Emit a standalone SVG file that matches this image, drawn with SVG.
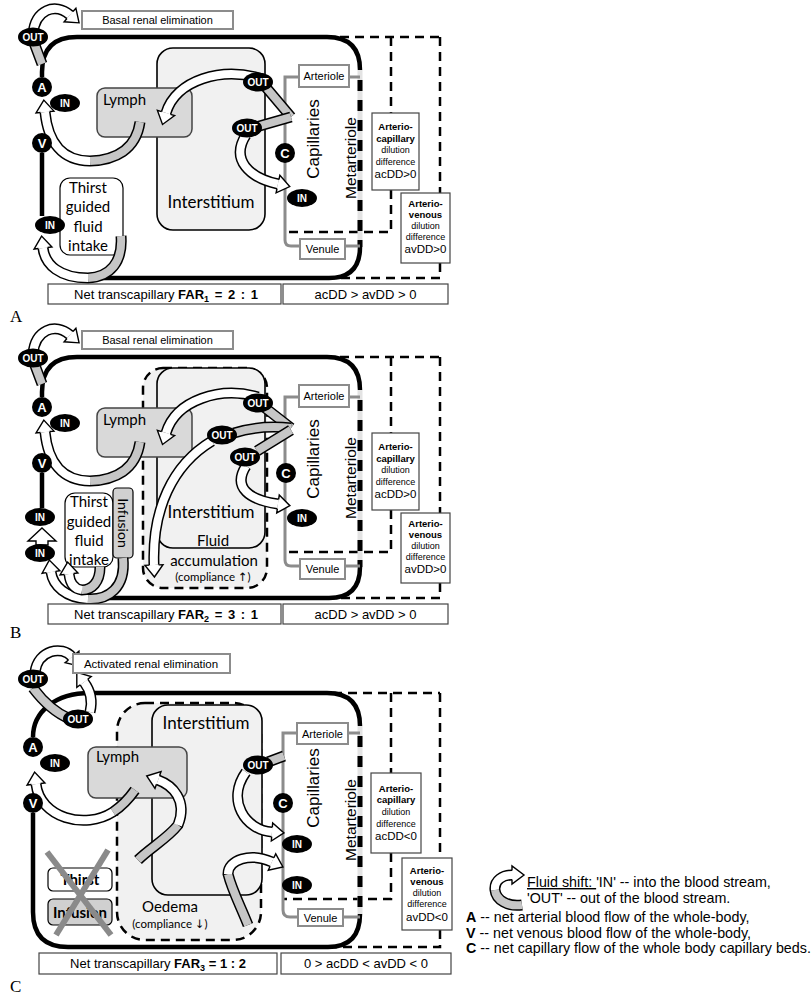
<svg xmlns="http://www.w3.org/2000/svg" width="812" height="995" viewBox="0 0 812 995">
<defs>
<marker id="ah" markerUnits="userSpaceOnUse" markerWidth="16" markerHeight="22" viewBox="-1 -11 16 22" refX="0" refY="0" orient="auto" overflow="visible">
<path d="M0,-4.6 L0,-9 L12,0 L0,9 L0,4.6" fill="#fff" stroke="#000" stroke-width="1.4"/>
</marker>
<style>
text{font-family:"Liberation Sans",Arial,sans-serif;}
.cal{font-family:Lato,"Open Sans",sans-serif;}
.ser{font-family:"Liberation Serif","Times New Roman",serif;}
.arr{font-family:"DejaVu Sans",sans-serif;fill:#000;}
.vl{fill:none;stroke:#000;stroke-width:4.5;}
.dash{fill:none;stroke:#000;stroke-width:2.5;stroke-dasharray:9 6;}
.dreg{fill:#f1f1f1;stroke:#000;stroke-width:2.5;stroke-dasharray:9 6;}
.cap{fill:none;stroke:#8c8c8c;stroke-width:3;}
.mb{stroke:#e3e3e3;stroke-width:5;}
.md{stroke:#000;stroke-width:5;stroke-dasharray:11 9;}
.ro{fill:none;stroke:#000;stroke-width:11;}
.rw{fill:none;stroke:#fff;stroke-width:8;marker-end:url(#ah);}
.rg{fill:none;stroke:#c6c6c6;stroke-width:8;}
.gbox{fill:#fff;stroke:#8c8c8c;stroke-width:2;}
.dbox{fill:#fff;stroke:#444;stroke-width:1.2;}
.tbox{fill:#fff;stroke:#000;stroke-width:1.2;}
.ibox{fill:#d0d0d0;stroke:#000;stroke-width:1.2;}
.lym{fill:#d9d9d9;stroke:#444;stroke-width:1.5;}
.ist{fill:#f1f1f1;stroke:#000;stroke-width:1.6;}
.ot{fill:#fff;font-weight:bold;font-size:10px;text-anchor:middle;}
.ct{fill:#fff;font-weight:bold;font-size:13px;text-anchor:middle;}
.mid{text-anchor:middle;}
.b{font-weight:bold;}
.x{stroke:#8a8a8a;stroke-width:6;}
.lg{font-size:14.3px;}
</style>
</defs>
<rect width="812" height="995" fill="#fff"/>

<!-- ================= PANEL A ================= -->
<g id="panelA">
<g id="A-interstitium"><rect class="ist" x="157" y="48" width="108" height="182" rx="16"/><text class="cal mid" x="211" y="208" font-size="17">Interstitium</text></g>
<g id="A-lymph"><rect class="lym" x="97" y="88" width="95" height="49" rx="8"/><text class="cal" x="103" y="105" font-size="15">Lymph</text></g>
<g id="A-thirst"><rect class="tbox" x="60" y="178" width="63" height="77" rx="10"/><text class="cal mid" font-size="15"><tspan x="88" y="193">Thirst</tspan><tspan x="88" y="212">guided</tspan><tspan x="88" y="232">fluid</tspan><tspan x="88" y="251">intake</tspan></text></g>
<g id="A-frames">
<path class="dash" d="M340 37 L440 37 M391 37 L391 113 M391 190 L391 232 L285 232 M440 37 L440 193 M440 263 L440 278 L330 278"/>
</g>
<g id="A-connectors">
<path class="vl" d="M42 77 L42 72 Q42 37 77 37 L327 37 Q360 37 360 70"/>
<path class="vl" d="M360 247 Q360 278 329 278 L84 278"/>
<path class="vl" d="M42 153 L42 216"/>
<line class="mb" x1="360" y1="70" x2="360" y2="247"/>
<line class="md" x1="360" y1="80" x2="360" y2="247"/>
<path class="cap" d="M299 77 L285 77 L285 240 Q285 246 291 246 L300 246 M349 77 L360 77 M345 246 L360 246"/>
<g id="A-f1"><path class="ro" d="M42 64 L33 40 M33 34 C35 10 55 2 70 15"/><path class="rg" d="M42 64 L33 40"/><path class="rw" d="M33 34 C35 10 55 2 70 15"/></g>
<g id="A-f2"><path class="ro" d="M140 122 C136 150 115 160 90 161 C62 161 48 142 45 112"/><path class="rg" d="M140 122 C136 150 115 160 90 161"/><path class="rw" d="M90 161 C62 161 48 142 45 112"/></g>
<g id="A-f3"><path class="ro" d="M291 117 L264 85 M262 79 C222 66 176 80 166 113"/><path class="rg" d="M291 117 L264 85"/><path class="rw" d="M262 79 C222 66 176 80 166 113"/></g>
<g id="A-f4"><path class="ro" d="M291 117 L256 127 M246 135 C230 160 250 178 278 184"/><path class="rg" d="M291 117 L256 127"/><path class="rw" d="M246 135 C230 160 250 178 278 184"/></g>
<g id="A-f5"><path class="ro" d="M121 236 C123 262 110 277 88 278 C60 278 45 265 43 248"/><path class="rg" d="M121 236 C123 262 110 277 88 278"/><path class="rw" d="M88 278 C60 278 45 265 43 248"/></g>
</g>
<g id="A-renal"><rect class="gbox" x="82" y="11" width="151" height="18"/><text class="mid" x="157.5" y="24" font-size="11">Basal renal elimination</text></g>
<g id="A-out1"><ellipse cx="33" cy="37" rx="15" ry="9.5"/><text class="ot" x="33" y="40.5">OUT</text></g>
<g id="A-A"><circle cx="42" cy="87" r="10"/><text class="ct" x="42" y="91.5">A</text></g>
<g id="A-in1"><ellipse cx="65" cy="103" rx="15" ry="9"/><text class="ot" x="65" y="106.5">IN</text></g>
<g id="A-V"><circle cx="42" cy="143" r="10"/><text class="ct" x="42" y="147.5">V</text></g>
<g id="A-in2"><ellipse cx="50" cy="225" rx="15" ry="9"/><text class="ot" x="50" y="228.5">IN</text></g>
<g id="A-out2"><ellipse cx="258" cy="82" rx="15" ry="9.5"/><text class="ot" x="258" y="85.5">OUT</text></g>
<g id="A-out3"><ellipse cx="247" cy="128" rx="15" ry="9.5"/><text class="ot" x="247" y="131.5">OUT</text></g>
<g id="A-C"><circle cx="285" cy="153" r="10"/><text class="ct" x="285" y="157.5">C</text></g>
<g id="A-in3"><ellipse cx="302" cy="198" rx="15" ry="9"/><text class="ot" x="302" y="201.5">IN</text></g>
<g id="A-caps"><text transform="translate(319,139) rotate(-90)" class="mid" font-size="17">Capillaries</text><text transform="translate(356,158) rotate(-90)" class="mid" font-size="15.5">Metarteriole</text></g>
<g id="A-arteriole"><rect class="gbox" x="299" y="65" width="50" height="22"/><text class="mid" x="324" y="80" font-size="11">Arteriole</text></g>
<g id="A-venule"><rect class="gbox" x="300" y="239" width="45" height="20"/><text class="mid" x="322.5" y="253" font-size="11">Venule</text></g>
<g id="A-acdd"><rect class="dbox" x="372" y="113" width="47" height="77"/><text class="mid" font-size="9.5"><tspan class="b" x="395.5" y="130">Arterio-</tspan><tspan class="b" x="395.5" y="142">capillary</tspan><tspan x="395.5" y="153" font-size="9">dilution</tspan><tspan x="395.5" y="165" font-size="9">difference</tspan><tspan x="395.5" y="178" font-size="11.5">acDD&gt;0</tspan></text></g>
<g id="A-avdd"><rect class="dbox" x="401" y="193" width="49" height="70"/><text class="mid" font-size="9.5"><tspan class="b" x="425.5" y="207">Arterio-</tspan><tspan class="b" x="425.5" y="218">venous</tspan><tspan x="425.5" y="229" font-size="9">dilution</tspan><tspan x="425.5" y="240" font-size="9">difference</tspan><tspan x="425.5" y="253" font-size="11.5">avDD&gt;0</tspan></text></g>
<g id="A-far"><rect class="dbox" x="48" y="284" width="233" height="20"/><text class="mid" x="166" y="298.5" font-size="13">Net transcapillary <tspan class="b">FAR</tspan><tspan class="b" font-size="9" dy="3">1</tspan><tspan class="b" dy="-3" word-spacing="2"> = 2 : 1</tspan></text></g>
<g id="A-dd"><rect class="dbox" x="283" y="284" width="165" height="20"/><text class="mid" x="365.5" y="298.5" font-size="13">acDD &gt; avDD &gt; 0</text></g>
<text class="ser" x="10" y="322" font-size="17">A</text>
</g>

<!-- ================= PANEL B ================= -->
<g id="panelB" transform="translate(0,320)">
<rect id="B-accum-region" class="dreg" x="143" y="48" width="124" height="220" rx="20"/>
<g id="B-interstitium"><rect class="ist" x="157" y="48" width="108" height="180" rx="16"/><text class="cal mid" x="211" y="198" font-size="17">Interstitium</text></g>
<g id="B-accum"><text class="cal mid" x="213" y="226" font-size="15">Fluid</text><text class="cal mid" x="214" y="246" font-size="15">accumulation</text><text class="cal mid" x="213" y="261" font-size="11.5">(compliance <tspan class="arr">↑</tspan>)</text></g>
<g id="B-lymph"><rect class="lym" x="97" y="88" width="95" height="49" rx="8"/><text class="cal" x="103" y="105" font-size="15">Lymph</text></g>
<g id="B-thirst"><rect class="tbox" x="65" y="173" width="48" height="74" rx="10"/><text class="cal mid" font-size="15"><tspan x="89" y="187">Thirst</tspan><tspan x="89" y="207">guided</tspan><tspan x="89" y="226">fluid</tspan><tspan x="89" y="245">intake</tspan></text></g>
<g id="B-infusion"><rect class="ibox" x="113" y="168" width="20" height="70" rx="4"/><text class="cal mid" transform="translate(123,203) rotate(90)" y="5" font-size="14">Infusion</text></g>
<g id="B-frames">
<path class="dash" d="M340 37 L440 37 M391 37 L391 113 M391 190 L391 232 L285 232 M440 37 L440 193 M440 263 L440 278 L330 278"/>
</g>
<g id="B-connectors">
<path class="vl" d="M42 77 L42 72 Q42 37 77 37 L327 37 Q360 37 360 70"/>
<path class="vl" d="M360 247 Q360 278 329 278 L84 278"/>
<path class="vl" d="M42 153 L42 188"/>
<line class="mb" x1="360" y1="70" x2="360" y2="247"/>
<line class="md" x1="360" y1="80" x2="360" y2="247"/>
<path class="cap" d="M299 77 L285 77 L285 240 Q285 246 291 246 L300 246 M349 77 L360 77 M345 246 L360 246"/>
<g id="B-f1"><path class="ro" d="M42 64 L33 40 M33 34 C35 10 55 2 70 15"/><path class="rg" d="M42 64 L33 40"/><path class="rw" d="M33 34 C35 10 55 2 70 15"/></g>
<g id="B-f2"><path class="ro" d="M140 122 C136 150 115 160 90 161 C62 161 48 142 45 112"/><path class="rg" d="M140 122 C136 150 115 160 90 161"/><path class="rw" d="M90 161 C62 161 48 142 45 112"/></g>
<g id="B-f3"><path class="ro" d="M291 108 L264 87 M258 77 C220 66 176 80 166 113"/><path class="rg" d="M291 108 L264 87"/><path class="rw" d="M258 77 C220 66 176 80 166 113"/></g>
<g id="B-f4"><path class="ro" d="M291 108 C272 106 250 108 234 113 M212 121 C172 145 152 190 154 245"/><path class="rg" d="M291 108 C272 106 250 108 234 113"/><path class="rw" d="M212 121 C172 145 152 190 154 245"/></g>
<g id="B-f5"><path class="ro" d="M291 110 L257 131 M246 146 C232 168 250 180 278 184"/><path class="rg" d="M291 110 L257 131"/><path class="rw" d="M246 146 C232 168 250 180 278 184"/></g>
<g id="B-f6"><path class="ro" d="M123 238 C126 268 108 280 88 279 C66 278 53 266 51 252"/><path class="rg" d="M123 238 C126 268 108 280 88 279"/><path class="rw" d="M88 279 C66 278 53 266 51 252"/></g>
<g id="B-f7"><path class="ro" d="M100 247 C100 262 92 270 82 270 C74 269 70 263 69 254"/><path class="rg" d="M100 247 C100 262 92 270 82 270"/><path class="rw" d="M82 270 C74 269 70 263 69 254"/></g>
<polygon id="B-inin" points="42,208 56,221 48,221 48,225 36,225 36,221 28,221" fill="#fff" stroke="#000" stroke-width="1.4"/>
</g>
<g id="B-renal"><rect class="gbox" x="82" y="11" width="151" height="18"/><text class="mid" x="157.5" y="24" font-size="11">Basal renal elimination</text></g>
<g id="B-out1"><ellipse cx="33" cy="38" rx="15" ry="9.5"/><text class="ot" x="33" y="41.5">OUT</text></g>
<g id="B-A"><circle cx="42" cy="87" r="10"/><text class="ct" x="42" y="91.5">A</text></g>
<g id="B-in1"><ellipse cx="65" cy="103" rx="15" ry="9"/><text class="ot" x="65" y="106.5">IN</text></g>
<g id="B-V"><circle cx="42" cy="143" r="10"/><text class="ct" x="42" y="147.5">V</text></g>
<g id="B-in2"><ellipse cx="40" cy="197" rx="15" ry="9"/><text class="ot" x="40" y="200.5">IN</text></g>
<g id="B-in3"><ellipse cx="40" cy="233" rx="15" ry="9"/><text class="ot" x="40" y="236.5">IN</text></g>
<g id="B-out2"><ellipse cx="258" cy="83" rx="15" ry="9.5"/><text class="ot" x="258" y="86.5">OUT</text></g>
<g id="B-out3"><ellipse cx="222" cy="115" rx="15" ry="9.5"/><text class="ot" x="222" y="118.5">OUT</text></g>
<g id="B-out4"><ellipse cx="245" cy="137" rx="15" ry="9.5"/><text class="ot" x="245" y="140.5">OUT</text></g>
<g id="B-C"><circle cx="286" cy="153" r="10"/><text class="ct" x="286" y="157.5">C</text></g>
<g id="B-in4"><ellipse cx="302" cy="198" rx="15" ry="9"/><text class="ot" x="302" y="201.5">IN</text></g>
<g id="B-caps"><text transform="translate(319,139) rotate(-90)" class="mid" font-size="17">Capillaries</text><text transform="translate(356,158) rotate(-90)" class="mid" font-size="15.5">Metarteriole</text></g>
<g id="B-arteriole"><rect class="gbox" x="299" y="65" width="50" height="22"/><text class="mid" x="324" y="80" font-size="11">Arteriole</text></g>
<g id="B-venule"><rect class="gbox" x="300" y="239" width="45" height="20"/><text class="mid" x="322.5" y="253" font-size="11">Venule</text></g>
<g id="B-acdd"><rect class="dbox" x="372" y="113" width="47" height="77"/><text class="mid" font-size="9.5"><tspan class="b" x="395.5" y="130">Arterio-</tspan><tspan class="b" x="395.5" y="142">capillary</tspan><tspan x="395.5" y="153" font-size="9">dilution</tspan><tspan x="395.5" y="165" font-size="9">difference</tspan><tspan x="395.5" y="178" font-size="11.5">acDD&gt;0</tspan></text></g>
<g id="B-avdd"><rect class="dbox" x="401" y="193" width="49" height="70"/><text class="mid" font-size="9.5"><tspan class="b" x="425.5" y="207">Arterio-</tspan><tspan class="b" x="425.5" y="218">venous</tspan><tspan x="425.5" y="229" font-size="9">dilution</tspan><tspan x="425.5" y="240" font-size="9">difference</tspan><tspan x="425.5" y="253" font-size="11.5">avDD&gt;0</tspan></text></g>
<g id="B-far"><rect class="dbox" x="48" y="284" width="233" height="20"/><text class="mid" x="166" y="298.5" font-size="13">Net transcapillary <tspan class="b">FAR</tspan><tspan class="b" font-size="9" dy="3">2</tspan><tspan class="b" dy="-3" word-spacing="2"> = 3 : 1</tspan></text></g>
<g id="B-dd"><rect class="dbox" x="283" y="284" width="165" height="20"/><text class="mid" x="365.5" y="298.5" font-size="13">acDD &gt; avDD &gt; 0</text></g>
<text class="ser" x="10" y="318" font-size="17">B</text>
</g>

<!-- ================= PANEL C ================= -->
<g id="panelC">
<rect id="C-oedema-region" class="dreg" x="117" y="703" width="144" height="237" rx="28"/>
<g id="C-interstitium"><rect class="ist" x="152" y="705" width="110" height="190" rx="16"/><text class="cal mid" x="206" y="729" font-size="17">Interstitium</text></g>
<g id="C-oedema"><text class="cal mid" x="170" y="912" font-size="15">Oedema</text><text class="cal mid" x="170" y="928" font-size="11.5">(compliance <tspan class="arr">↓</tspan>)</text></g>
<g id="C-lymph"><rect class="lym" x="88" y="747" width="99" height="51" rx="8"/><text class="cal" x="96" y="762" font-size="15">Lymph</text></g>
<g id="C-thirst"><rect class="tbox" x="48" y="868" width="64" height="23" rx="5"/><text class="cal mid b" x="80" y="885" font-size="15">Thirst</text></g>
<g id="C-infusion"><rect class="ibox" x="48" y="899" width="64" height="26" rx="5"/><text class="cal mid b" x="80" y="918" font-size="15">Infusion</text></g>
<g id="C-cross"><line class="x" x1="47" y1="852" x2="111" y2="935"/><line class="x" x1="108" y1="850" x2="56" y2="935"/></g>
<g id="C-frames">
<path class="dash" d="M333 693 L440 693 M391 693 L391 773 M391 853 L391 899 L283 899 M440 693 L440 858 M440 930 L440 947 L330 947"/>
</g>
<g id="C-connectors">
<path class="vl" d="M33 737 C33 712 55 693 90 693 L327 693 Q360 693 360 726"/>
<path class="vl" d="M33 813 L33 912 Q33 947 68 947 L328 947 Q360 947 360 914"/>
<line class="mb" x1="360" y1="726" x2="360" y2="914"/>
<line class="md" x1="360" y1="736" x2="360" y2="914"/>
<path class="cap" d="M297 733 L283 733 L283 910 Q283 917 290 917 L298 917 M348 733 L360 733 M343 917 L360 917"/>
<g id="C-f1"><path class="ro" d="M33 688 C45 704 58 714 70 719 M35 672 C38 650 62 645 72 657 M90 712 C93 700 90 690 84 682"/><path class="rg" d="M33 688 C45 704 58 714 70 719"/><path class="rw" d="M35 672 C38 650 62 645 72 657"/><path class="rw" d="M90 712 C93 700 90 690 84 682"/></g>
<g id="C-f2"><path class="ro" d="M135 790 C128 800 122 806 113 812 C85 830 40 818 36 784"/><path class="rg" d="M135 790 C128 800 122 806 113 812"/><path class="rw" d="M113 812 C85 830 40 818 36 784"/></g>
<g id="C-f3"><path class="ro" d="M138 860 C150 848 168 838 178 825 C188 800 172 785 158 780"/><path class="rg" d="M138 860 C150 848 168 838 178 825"/><path class="rw" d="M178 825 C188 800 172 785 158 780"/></g>
<g id="C-f4"><path class="ro" d="M284 756 L268 762 M246 772 C226 800 245 830 272 832"/><path class="rg" d="M284 756 L268 762"/><path class="rw" d="M246 772 C226 800 245 830 272 832"/></g>
<g id="C-f5"><path class="ro" d="M248 925 C240 905 232 890 228 874 C228 860 250 852 272 862"/><path class="rg" d="M248 925 C240 905 232 890 228 874"/><path class="rw" d="M228 874 C228 860 250 852 272 862"/></g>
</g>
<g id="C-renal"><rect class="gbox" x="73" y="654" width="157" height="19"/><text class="mid" x="151" y="668" font-size="11.5">Activated renal elimination</text></g>
<g id="C-out1"><ellipse cx="33" cy="679" rx="15" ry="9.5"/><text class="ot" x="33" y="682.5">OUT</text></g>
<g id="C-out2"><ellipse cx="78" cy="719" rx="15" ry="9.5"/><text class="ot" x="78" y="722.5">OUT</text></g>
<g id="C-A"><circle cx="33" cy="747" r="10"/><text class="ct" x="33" y="751.5">A</text></g>
<g id="C-in1"><ellipse cx="55" cy="763" rx="15" ry="9"/><text class="ot" x="55" y="766.5">IN</text></g>
<g id="C-V"><circle cx="33" cy="803" r="10"/><text class="ct" x="33" y="807.5">V</text></g>
<g id="C-out3"><ellipse cx="258" cy="765" rx="15" ry="9.5"/><text class="ot" x="258" y="768.5">OUT</text></g>
<g id="C-C"><circle cx="283" cy="803" r="10"/><text class="ct" x="283" y="807.5">C</text></g>
<g id="C-in2"><ellipse cx="297" cy="844" rx="15" ry="9"/><text class="ot" x="297" y="847.5">IN</text></g>
<g id="C-in3"><ellipse cx="297" cy="885" rx="15" ry="9"/><text class="ot" x="297" y="888.5">IN</text></g>
<g id="C-caps"><text transform="translate(319,788) rotate(-90)" class="mid" font-size="17">Capillaries</text><text transform="translate(356,820) rotate(-90)" class="mid" font-size="15.5">Metarteriole</text></g>
<g id="C-arteriole"><rect class="gbox" x="297" y="723" width="51" height="21"/><text class="mid" x="322.5" y="737.5" font-size="11">Arteriole</text></g>
<g id="C-venule"><rect class="gbox" x="298" y="909" width="45" height="17"/><text class="mid" x="320.5" y="921.5" font-size="11">Venule</text></g>
<g id="C-acdd"><rect class="dbox" x="371" y="773" width="50" height="80"/><text class="mid" font-size="9.5"><tspan class="b" x="396" y="792">Arterio-</tspan><tspan class="b" x="396" y="803">capillary</tspan><tspan x="396" y="815" font-size="9">dilution</tspan><tspan x="396" y="827" font-size="9">difference</tspan><tspan x="396" y="840" font-size="11.5">acDD&lt;0</tspan></text></g>
<g id="C-avdd"><rect class="dbox" x="402" y="858" width="50" height="72"/><text class="mid" font-size="9.5"><tspan class="b" x="427" y="874">Arterio-</tspan><tspan class="b" x="427" y="885">venous</tspan><tspan x="427" y="896" font-size="9">dilution</tspan><tspan x="427" y="907" font-size="9">difference</tspan><tspan x="427" y="921" font-size="11.5">avDD&lt;0</tspan></text></g>
<g id="C-far"><rect class="dbox" x="39" y="953" width="238" height="21"/><text class="mid" x="158" y="968" font-size="13">Net transcapillary <tspan class="b">FAR</tspan><tspan class="b" font-size="9" dy="3">3</tspan><tspan class="b" dy="-3"> = 1 : 2</tspan></text></g>
<g id="C-dd"><rect class="dbox" x="281" y="953" width="170" height="21"/><text class="mid" x="366" y="968" font-size="13">0 &gt; acDD &lt; avDD &lt; 0</text></g>
<text class="ser" x="10" y="992" font-size="17">C</text>
</g>

<!-- ================= LEGEND ================= -->
<g id="legend">
<g id="legend-icon"><path class="ro" d="M522 905 C508 907 496 900 495 890 C494 880 503 875 512 875"/><path class="rg" d="M522 905 C508 907 496 900 495 890"/><path class="rw" d="M495 890 C494 880 503 875 512 875"/></g>
<text class="lg" x="527" y="887"><tspan text-decoration="underline">Fluid shift: </tspan>'IN' -- into the blood stream,</text>
<text class="lg" x="527" y="903">'OUT' -- out of the blood stream.</text>
<text class="lg" x="466" y="922"><tspan class="b">A</tspan> -- net arterial blood flow of the whole-body,</text>
<text class="lg" x="466" y="938"><tspan class="b">V</tspan> -- net venous blood flow of the whole-body,</text>
<text class="lg" x="466" y="953"><tspan class="b">C</tspan> -- net capillary flow of the whole body capillary beds.</text>
</g>
</svg>
